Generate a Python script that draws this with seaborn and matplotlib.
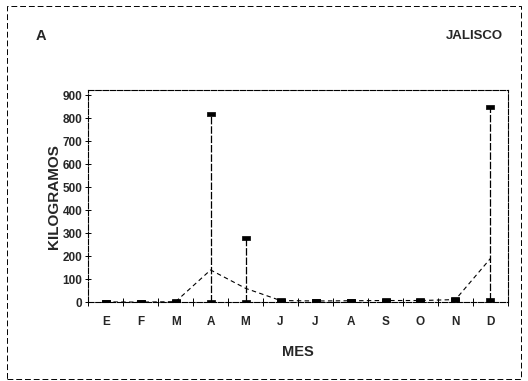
import matplotlib
matplotlib.use("Agg")
import matplotlib.pyplot as plt
import seaborn as sns
import pandas as pd
import numpy as np
from matplotlib.patches import Rectangle

meses = ["E", "F", "M", "A", "M", "J", "J", "A", "S", "O", "N", "D"]
maximo = [2, 1, 3, 820, 280, 8, 6, 7, 8, 8, 12, 850]
minimo = [0, 0, 0, 0, 0, 5, 5, 5, 6, 6, 10, 10]
media = [1, 0, 2, 140, 60, 7, 5, 6, 7, 7, 11, 190]

sns.set_theme(style="white")
plt.rcParams['font.family'] = ['Liberation Sans', 'DejaVu Sans']

df = pd.DataFrame({"pos": np.arange(len(meses)), "mes": meses,
                   "max": maximo, "min": minimo, "media": media})

fig = plt.figure(figsize=(5.28, 3.81), dpi=100)
ax = fig.add_axes([0.167, 0.207, 0.795, 0.556])

# mean line
sns.lineplot(data=df, x="pos", y="media", ax=ax, color="black", lw=0.8,
             linestyle=(0, (4, 3)), zorder=2)
# range lines
ax.vlines(df["pos"], df["min"], df["max"], color="black", lw=0.9,
          linestyle=(0, (6, 1.5)), zorder=2)
# markers
rect = [(-1.6, -0.7), (1.6, -0.7), (1.6, 0.7), (-1.6, 0.7), (-1.6, -0.7)]
sns.scatterplot(data=df, x="pos", y="max", ax=ax, marker=rect, s=40,
                color="black", edgecolor="black", zorder=3)
sns.scatterplot(data=df, x="pos", y="min", ax=ax, marker=rect, s=40,
                color="black", edgecolor="black", zorder=3)

ax.set_xlim(-0.5, 11.5)
ax.set_ylim(0, 922)
ax.set_xticks(np.arange(12))
ax.set_xticklabels(meses, fontsize=8.5, fontweight="bold")
ax.set_xticks(np.arange(-0.5, 12, 1), minor=True)
ax.tick_params(axis="x", which="major", length=0, pad=10)
ax.tick_params(axis="x", which="minor", length=6, direction="inout",
               width=0.7, color="black", bottom=True)
ax.set_yticks(np.arange(0, 901, 100))
ax.set_yticklabels([str(v) for v in range(0, 901, 100)], fontsize=8.5,
                   fontweight="bold")
ax.tick_params(axis="y", length=4, direction="inout", width=0.7,
               color="black", left=True, pad=2)

for s in ax.spines.values():
    s.set_linestyle((0, (5, 1.5)))
    s.set_linewidth(0.8)
    s.set_color("black")

ax.set_xlabel("MES", fontsize=10.5, fontweight="bold", labelpad=12)
ax.set_ylabel("KILOGRAMOS", fontsize=11, fontweight="bold", labelpad=1)

fig.text(0.068, 0.905, "A", fontsize=10.5, fontweight="bold", va="center")
fig.text(0.952, 0.905, "JALISCO", fontsize=9.5, fontweight="bold",
         va="center", ha="right")

fig.patches.append(Rectangle((0.013, 0.005), 0.974, 0.98,
                             transform=fig.transFigure, fill=False,
                             lw=0.7, ls=(0, (6, 3)), color="black"))

fig.savefig("out.png", dpi=100)
